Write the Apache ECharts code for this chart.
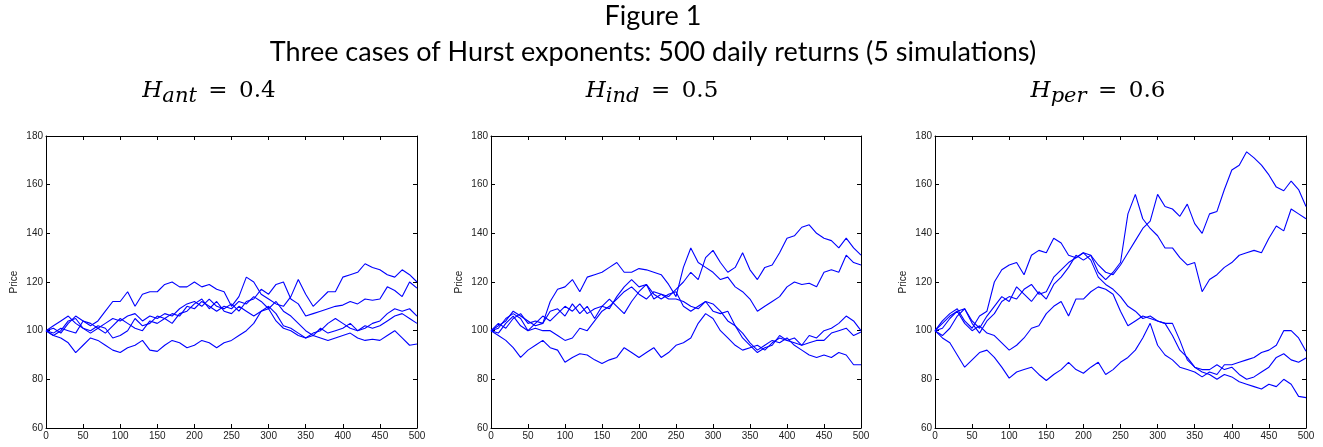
<!DOCTYPE html>
<html>
<head>
<meta charset="utf-8">
<script src="https://cdn.jsdelivr.net/npm/echarts@6/dist/echarts.min.js"></script>
<style>
html,body{margin:0;padding:0;background:#fff;}
#chart{width:1323px;height:447px;}
</style>
</head>
<body>
<div id="chart"></div>
<script>
// ---- data (every 10 days) ----
const days = [0,10,20,30,40,50,60,70,80,90,100,110,120,130,140,150,160,170,180,190,200,210,220,230,240,250,260,270,280,290,300,310,320,330,340,350,360,370,380,390,400,410,420,430,440,450,460,470,480,490,500];
const xTicks = [0,50,100,150,200,250,300,350,400,450,500];
const yTicks = [60,80,100,120,140,160,180];

const panelTitles = ['ant', 'ind', 'per'];
const panelHurst = ['0.4', '0.5', '0.6'];

// H = 0.4 (anti-persistent)
const antSim1 = [100,101,99,103,106,104,102,104,108,112,112,116,110,115,116,116,119,120,118,118,120,118,119,117,116,110,114,122,120,115,113,111,110,114,121,115,110,113,116,116,122,123,124,127.5,126,125,123,122,125,123,120];
const antSim2 = [100,98,100,104,105,101,99,101,103,105,104,106,107,104,106,105,107,106,109,111,112,110,113,110,109,111,108,112,113,117,115,119,120,113,111,106,107,108,109,110,110.5,112,111,113,112.5,113,118,116.5,114,120,117.5];
const antSim3 = [100,102,104,106,103,101,100,102,101,97,98,100,105,102,103,106,105,107,106,110,109,112,110,108,110,109,112,111,114,112,109,112,108,106,103,100,98,101,99,100,101,103,100,101,103,104,107,109,108,109,106];
const antSim4 = [100,99,101,100,99,104,103,101,99,102,105,103,101,100,104,103,105,103,107,108,111,113,109,112,108,107,110,108,106,108,110,107,102,101,99,97,99,100,103,105,103,101,100,102,101,102,104,106,107,105,103];
const antSim5 = [100,98,97,95,91,94,97,96,94,92,91,93,94,96,92,91.5,94,96,95,93,94,96,95,93,95,96,98,100,103,108,109,104,101,100,98,97,98,97,96,97,98,99,97,96,96.5,96,98,100,97,94,94.5];

// H = 0.5 (independent)
const indSim1 = [100,102,104,108,106,104,102,103,108,109,106,111,107,110,105,110,109,114,118,121,118,119,113,115,114,117,120,124,121,130,133,128,124,126,132,125,121,126,127,132,138,139,142.5,143.5,140,138,137,134,138,134,131];
const indSim2 = [100,103,101,105,107,103,104,103,112,117,118,121,116,122,123,124,126,128,124,124,125.5,125,124,123,119,114,126,134,128,126,124,121,122,118,116,113,108,110,112,114,118,120,119,119.5,118,124,125,124,131,128,127];
const indSim3 = [100,98,96,93,89,92,94,96,93,92,87,89,90.5,90,88,86.5,88,89,93,91,89,91,93,89,91,94,95,97,103,107,105,100,97,94,92,93,94,92,95,97,96,95,94,98,97,100,101,103,106,104,100];
const indSim4 = [100,101,105,107,105,100,101,100,100,98,96,97,101,100,104,108,110,113,116,118,115,113,116,115,113,113,112,110,109,112,111,108,104,102,99,95,92,94,96,95,97,94,92,90,89,90,89,91,90,86,86];
const indSim5 = [100,99,103,106,102,100,103,106,104,107,110,108,111,107,109,110,113,110,107,112,116,119,115,113,115,116,110,108,110,112,108,107,108,102,97,94,91,93,94,98,96,97,94,95,96,96,99,100,101,98,99.5];

// H = 0.6 (persistent)
const perSim1 = [100,103,106,108,109,104,101,106,110,114,112,118,115,112,116,113,119,122,126,131,129,131,127,124,123,127,132,137,142,145,156,151,150,147,152,144,140,148,149,158,166,168,173.5,171,168,164,159,157.5,161.5,158,151];
const perSim2 = [100,98,101,106,109,103,99,104,107,112,114,113,117,119,115,116,122,125,128,130,132,131,124,121,124,128,148,156,146,142,139,134,134,130,127,128,116,121,123,126,128,131,132,133,132,138,143,141,150,148,146];
const perSim3 = [100,104,107,109,104,101,106,108,120,125,127,128,123,131,133,132,138,136,131,130,132,129,122,119,117,114,110,108,105,106,104,103,103,96,88,85,83,82,80,82,81,79,78,77,76,78,77,80,78,73,72.5];
const perSim4 = [100,101,105,108,103,100,102,99,98,95,92,94,97,101,102,107,110,112,106,113,113,116,118,117,115,108,102,104,106,105,104,103,98,92,89,85,84,84,86,84,85,82,80,81,83,85,89,90.5,88,87,88.8];
const perSim5 = [100,97,95,90,85,88,91,92,89,85,80.5,83,84,85,82,79.5,82,84,87,84,82.5,85,87,82,84,87,89,92,97,103,94,90,88,85,84,83,81,83,82,86,86,87,88,89,91,92,94,100,100,97,91.5];

const panelSims = [
  [antSim1, antSim2, antSim3, antSim4, antSim5],
  [indSim1, indSim2, indSim3, indSim4, indSim5],
  [perSim1, perSim2, perSim3, perSim4, perSim5]
];

// ---- layout ----
const grids = [
  {left: 46, right: 906, top: 136, bottom: 19},
  {left: 491, right: 462, top: 136, bottom: 19},
  {left: 935, right: 17, top: 136, bottom: 19}
];
const subtitleX = [209, 652, 1098];

const tickFont = {fontFamily: 'Liberation Sans, Arial, sans-serif', fontSize: 10, color: '#222'};
const axisLineStyle = {lineStyle: {color: '#000', width: 1}};
const tickStyle = {inside: true, length: 4, lineStyle: {color: '#000', width: 1}};

const xAxes = [], yAxes = [], series = [];
grids.forEach((g, p) => {
  const common = {gridIndex: p, type: 'value', min: xTicks[0], max: xTicks[xTicks.length - 1], interval: 50,
    axisLine: Object.assign({onZero: false}, axisLineStyle), axisTick: tickStyle, splitLine: {show: false}};
  xAxes.push(Object.assign({}, common, {position: 'bottom',
    axisLabel: Object.assign({margin: 3}, tickFont)}));
  xAxes.push(Object.assign({}, common, {position: 'top', axisLabel: {show: false}}));
  const ycommon = {gridIndex: p, type: 'value', min: yTicks[0], max: yTicks[yTicks.length - 1], interval: 20,
    axisLine: Object.assign({onZero: false}, axisLineStyle), axisTick: tickStyle, splitLine: {show: false}};
  yAxes.push(Object.assign({}, ycommon, {position: 'left',
    name: 'Price', nameLocation: 'middle', nameGap: 27, nameRotate: 90,
    nameTextStyle: {fontFamily: 'Liberation Sans, Arial, sans-serif', fontSize: 10, color: '#222'},
    axisLabel: Object.assign({margin: 3}, tickFont)}));
  yAxes.push(Object.assign({}, ycommon, {position: 'right', axisLabel: {show: false}}));
  panelSims[p].forEach((sim, k) => {
    series.push({
      type: 'line', xAxisIndex: p * 2, yAxisIndex: p * 2,
      data: days.map((d, i) => [d, sim[i]]),
      symbol: 'none', showSymbol: false, silent: true,
      lineStyle: {color: '#0000ff', width: 1.1},
      z: 2
    });
  });
});

const graphics = [
  {type: 'text', x: 653, y: 3,
    style: {text: 'Figure 1', align: 'center', font: '27px Lato, "Open Sans", sans-serif', fill: '#000'}},
  {type: 'text', x: 653, y: 39,
    style: {text: 'Three cases of Hurst exponents: 500 daily returns (5 simulations)', align: 'center', font: '27px Lato, "Open Sans", sans-serif', fill: '#000'}}
];
panelTitles.forEach((t, p) => {
  graphics.push({
    type: 'text', x: subtitleX[p], y: 91,
    style: {
      text: '{h|H}{s|' + t + '}{n|\u2002=\u2002' + panelHurst[p] + '}',
      align: 'center', verticalAlign: 'middle',
      rich: {
        h: {font: 'italic 23px "DejaVu Serif", "Liberation Serif", serif', fill: '#000'},
        s: {font: 'italic 21px "DejaVu Serif", "Liberation Serif", serif', fill: '#000', padding: [12, 0, 0, 0]},
        n: {font: '23px "DejaVu Serif", "Liberation Serif", serif', fill: '#000'}
      }
    }
  });
});

const chart = echarts.init(document.getElementById('chart'), null, {renderer: 'canvas'});
chart.setOption({
  animation: false,
  backgroundColor: '#fff',
  grid: grids,
  xAxis: xAxes,
  yAxis: yAxes,
  series: series,
  graphic: graphics
});
</script>
</body>
</html>
